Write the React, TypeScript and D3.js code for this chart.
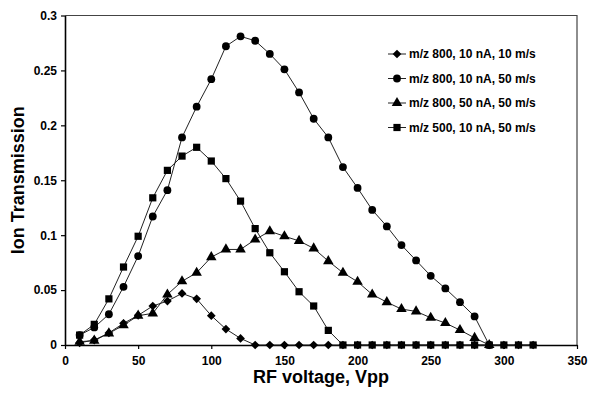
import { useEffect, useRef } from 'react';
import * as d3 from 'd3';

const voltages = [10, 20, 30, 40, 50, 60, 70, 80, 90, 100, 110, 120, 130, 140, 150, 160,
  170, 180, 190, 200, 210, 220, 230, 240, 250, 260, 270, 280, 290, 300, 310, 320];

const mz800_10nA_10ms = [0.002, 0.0045, 0.011, 0.0197, 0.027, 0.0355, 0.040, 0.047, 0.042, 0.0267,
  0.0145, 0.006, 0, 0, 0, 0, 0, 0, 0, 0, 0, 0, 0, 0, 0, 0, 0, 0, 0, 0, 0, 0];

const mz800_10nA_50ms = [0.009, 0.016, 0.028, 0.053, 0.081, 0.117, 0.141, 0.189, 0.217, 0.242,
  0.272, 0.281, 0.277, 0.265, 0.251, 0.230, 0.206, 0.189, 0.162, 0.143, 0.123, 0.108, 0.091,
  0.077, 0.063, 0.0515, 0.039, 0.026, 0];

const mz800_50nA_50ms = [0.003, 0.004, 0.0106, 0.018, 0.0267, 0.0288, 0.046, 0.058, 0.0658, 0.080,
  0.087, 0.087, 0.096, 0.1036, 0.099, 0.0948, 0.088, 0.0764, 0.0658, 0.0576, 0.046, 0.039,
  0.0327, 0.0306, 0.0248, 0.020, 0.0136, 0.0065, 0];

const mz500_10nA_50ms = [0.009, 0.0188, 0.042, 0.071, 0.099, 0.134, 0.159, 0.172, 0.180, 0.1675,
  0.1515, 0.131, 0.106, 0.084, 0.0667, 0.0485, 0.0355, 0.0133, 0, 0, 0, 0, 0, 0, 0, 0, 0, 0,
  0, 0, 0, 0];

const seriesLabels = [
  'm/z 800, 10 nA, 10 m/s',
  'm/z 800, 10 nA, 50 m/s',
  'm/z 800, 50 nA, 50 m/s',
  'm/z 500, 10 nA, 50 m/s',
];

const xTicks = [0, 50, 100, 150, 200, 250, 300, 350];
const yTicks = [0, 0.05, 0.1, 0.15, 0.2, 0.25, 0.3];

const FONT = '"Liberation Sans", Arial, sans-serif';

function Chart() {
  const svgRef = useRef<SVGSVGElement>(null);

  useEffect(() => {
    const svg = d3.select(svgRef.current);
    svg.selectAll('*').remove();

    const left = 65, right = 577, top = 15.5, bottom = 345;

    const x = d3.scaleLinear().domain([0, 350]).range([left, right]);
    const y = d3.scaleLinear().domain([0, 0.3]).range([bottom, top]);

    const markers = [
      { path: d3.symbol(d3.symbolSquare, 38)(), rotate: 45 },
      { path: d3.symbol(d3.symbolCircle, 48)(), rotate: 0 },
      { path: d3.symbol(d3.symbolTriangle, 48)(), rotate: 0 },
      { path: d3.symbol(d3.symbolSquare, 52)(), rotate: 0 },
    ];

    const allSeries = [mz800_10nA_10ms, mz800_10nA_50ms, mz800_50nA_50ms, mz500_10nA_50ms];

    // plot frame (top + right)
    svg.append('path')
      .attr('d', `M${left},${top}H${right}V${bottom}`)
      .attr('fill', 'none')
      .attr('stroke', '#444')
      .attr('stroke-width', 1.2);

    // X axis
    const xAxis = svg.append('g')
      .attr('transform', `translate(0,${bottom})`)
      .call(d3.axisBottom(x).tickValues(xTicks).tickSize(4).tickSizeOuter(0).tickFormat(d3.format('d')));
    xAxis.select('.domain').attr('stroke', '#000').attr('stroke-width', 1.6);
    xAxis.selectAll('line').attr('stroke', '#000').attr('stroke-width', 1.2);
    xAxis.selectAll('text')
      .attr('font-family', FONT)
      .attr('font-size', 12)
      .attr('font-weight', 'bold')
      .attr('fill', '#000')
      .attr('dy', '1.05em');

    // Y axis
    const yAxis = svg.append('g')
      .attr('transform', `translate(${left},0)`)
      .call(d3.axisLeft(y).tickValues(yTicks).tickSize(4).tickSizeOuter(0).tickFormat(d => String(+d)));
    yAxis.select('.domain').attr('stroke', '#000').attr('stroke-width', 1.6);
    yAxis.selectAll('line').attr('stroke', '#000').attr('stroke-width', 1.2);
    yAxis.selectAll('text')
      .attr('font-family', FONT)
      .attr('font-size', 12)
      .attr('font-weight', 'bold')
      .attr('fill', '#000')
      .attr('x', -8);

    const line = d3.line<number>()
      .x((_, i) => x(voltages[i]))
      .y(d => y(d));

    allSeries.forEach((values, si) => {
      svg.append('path')
        .datum(values)
        .attr('fill', 'none')
        .attr('stroke', '#222')
        .attr('stroke-width', 1)
        .attr('d', line);

      svg.append('g')
        .selectAll('path')
        .data(values)
        .join('path')
        .attr('d', markers[si].path)
        .attr('transform', (d, i) => `translate(${x(voltages[i])},${y(d)}) rotate(${markers[si].rotate})`)
        .attr('fill', '#000');
    });

    // Legend
    const legend = svg.append('g').attr('transform', 'translate(388,54)');
    seriesLabels.forEach((label, i) => {
      const row = legend.append('g').attr('transform', `translate(0,${i * 24.5})`);
      row.append('line')
        .attr('x1', 0).attr('x2', 18)
        .attr('stroke', '#222').attr('stroke-width', 1);
      row.append('path')
        .attr('d', markers[i].path)
        .attr('transform', `translate(9,0) rotate(${markers[i].rotate})`)
        .attr('fill', '#000');
      row.append('text')
        .attr('x', 21)
        .attr('dy', '0.35em')
        .attr('font-family', FONT)
        .attr('font-size', 12)
        .attr('font-weight', 'bold')
        .attr('fill', '#000')
        .text(label);
    });

    // Axis titles
    svg.append('text')
      .attr('x', (left + right) / 2)
      .attr('y', 383)
      .attr('text-anchor', 'middle')
      .attr('font-family', FONT)
      .attr('font-size', 18)
      .attr('font-weight', 'bold')
      .text('RF voltage, Vpp');

    svg.append('text')
      .attr('transform', `translate(24,${(top + bottom) / 2}) rotate(-90)`)
      .attr('text-anchor', 'middle')
      .attr('font-family', FONT)
      .attr('font-size', 18)
      .attr('font-weight', 'bold')
      .text('Ion Transmission');
  }, []);

  return <svg ref={svgRef} width={600} height={405} style={{ display: 'block' }} />;
}

export default function App() {
  return (
    <div style={{ margin: -8, width: 600, height: 405, background: '#fff' }}>
      <Chart />
    </div>
  );
}
